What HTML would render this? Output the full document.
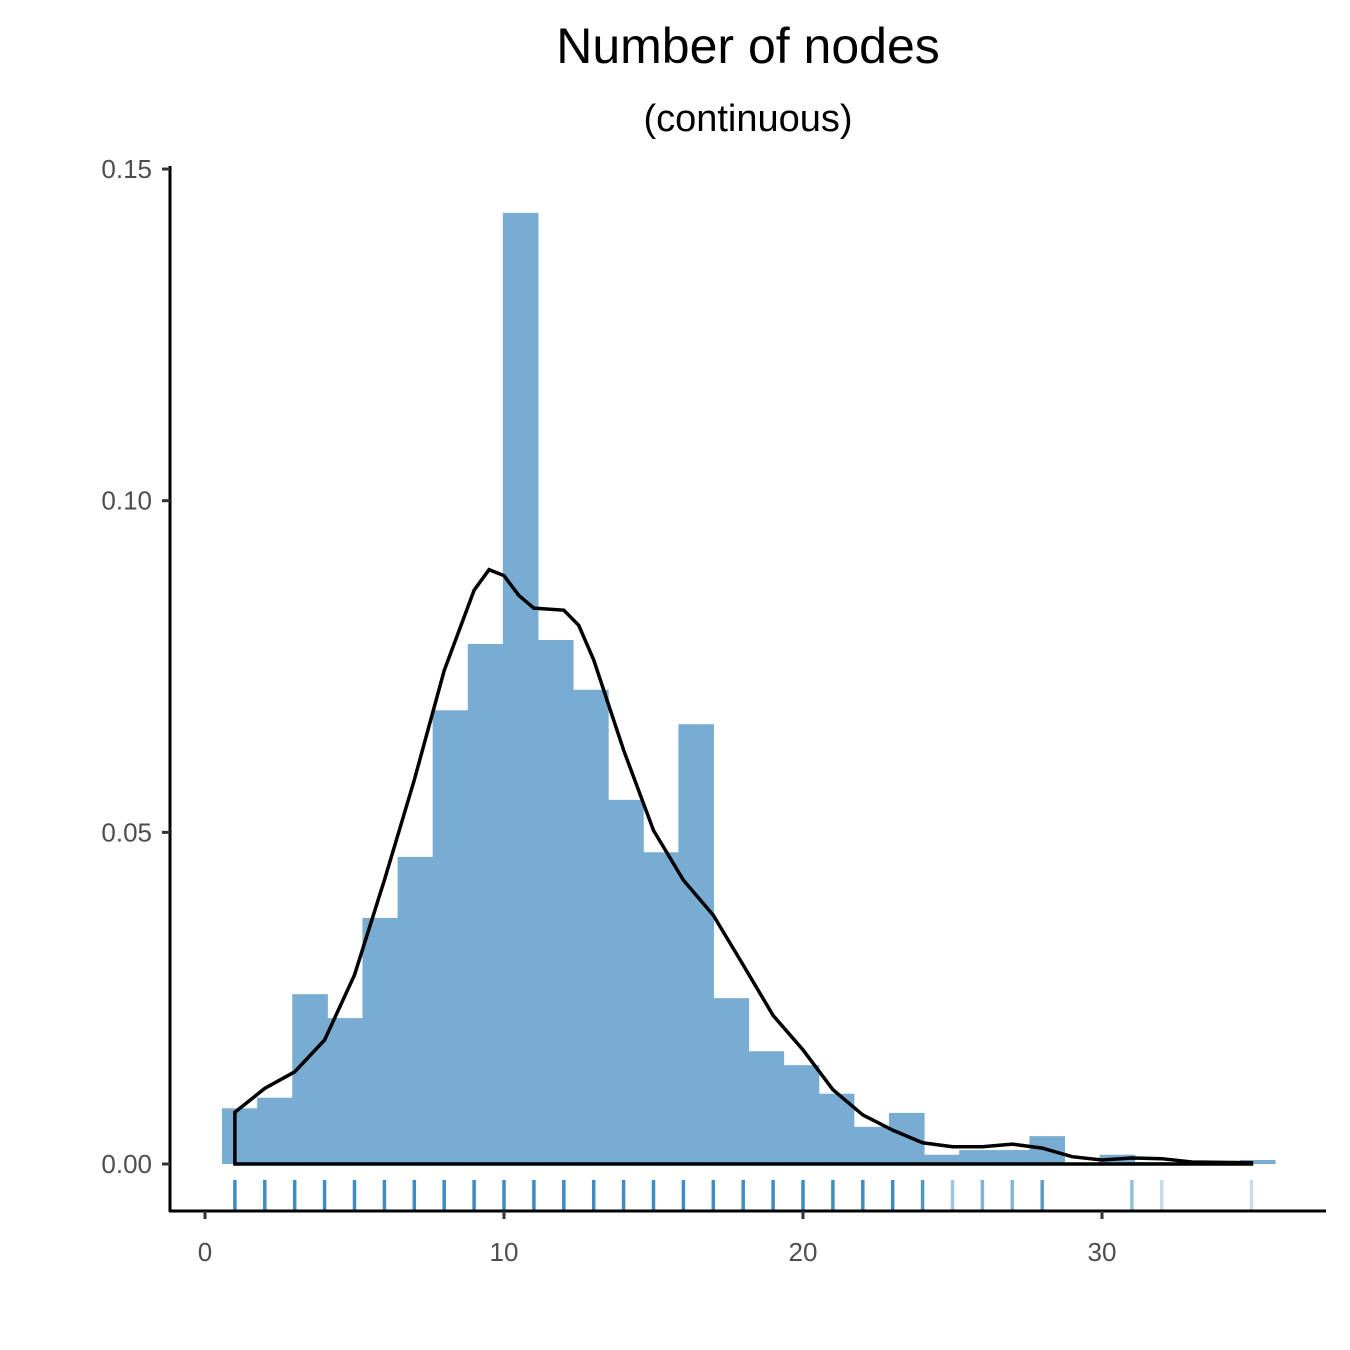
<!DOCTYPE html>
<html><head><meta charset="utf-8"><style>body{margin:0;background:#fff}svg{display:block;font-family:"Liberation Sans",sans-serif}</style></head>
<body>
<svg id="chart" width="1350" height="1350">
<text x="748" y="63" text-anchor="middle" font-size="50">Number of nodes</text>
<text x="748" y="131" text-anchor="middle" font-size="38">(continuous)</text>
<g id="bars"></g>
<g id="rug"></g>
<path id="dens" fill="none" stroke="#000" stroke-width="3.5"/>
<line x1="170" y1="166" x2="170" y2="1212" stroke="#000" stroke-width="3"/>
<line x1="169" y1="1211" x2="1326" y2="1211" stroke="#000" stroke-width="3"/>
<g id="axes"></g>
</svg>
<script>
const binStart = 0.57;
const binWidth = 1.174;
const binValues = [0.0084,0.0100,0.0256,0.0220,0.0371,0.0463,0.0684,0.0784,0.1434,0.0790,0.0715,0.0549,0.0470,0.0663,0.0250,0.0170,0.0149,0.0106,0.0056,0.0077,0.0014,0.0021,0.0021,0.0042,0,0.0014,0.0003,0,0,0.0006];
const densX = [1,2,3,4,5,6,7,8,9,9.5,10,10.5,11,12,12.5,13,14,15,16,17,18,19,20,21,22,23,24,25,26,27,28,29,30,31,32,33,35];
const densY = [0.0078,0.0114,0.0139,0.0187,0.0285,0.0428,0.0579,0.0744,0.0865,0.0896,0.0887,0.0857,0.0838,0.0835,0.0812,0.0760,0.0624,0.0503,0.0428,0.0375,0.0300,0.0224,0.0172,0.0112,0.0074,0.0051,0.0032,0.0026,0.0026,0.0030,0.0024,0.0011,0.0006,0.0009,0.0008,0.0003,0.0002];
const rugX = [1,2,3,4,5,6,7,8,9,10,11,12,13,14,15,16,17,18,19,20,21,22,23,24,25,26,27,28,31,32,35];
const rugAlpha = [1,1,1,1,1,1,1,1,1,1,1,1,1,1,1,1,1,1,1,1,1,1,1,0.9,0.5,0.65,0.65,0.85,0.55,0.3,0.3];
const xTicks = [0,10,20,30];
const yTicks = [0,0.05,0.10,0.15];
const yTickLabels = ["0.00","0.05","0.10","0.15"];
const X = v => 205 + v*29.9;
const Y = v => 1164 - v*6633;
const NS = "http://www.w3.org/2000/svg";
const mk = (p,t,a) => {const e=document.createElementNS(NS,t);for(const k in a)e.setAttribute(k,a[k]);document.getElementById(p).appendChild(e);return e;};
binValues.forEach((v,i)=>{ if(v<=0) return;
  const x0=X(binStart+i*binWidth), x1=X(binStart+(i+1)*binWidth);
  const r=mk('bars','rect',{x:x0,y:Y(v),width:x1-x0+0.5,height:Y(0)-Y(v),fill:'#78acd2'});
  
  
});
rugX.forEach((v,i)=>{
  const l=mk('rug','line',{x1:X(v),x2:X(v),y1:1180,y2:1210,stroke:'#1f77b4','stroke-width':3.5,'stroke-opacity':rugAlpha[i]*0.85});
  
  
});
let d='M'+X(densX[0])+','+Y(0);
densX.forEach((v,i)=>{d+=' L'+X(v)+','+Y(densY[i]);});
d+=' L'+X(densX[densX.length-1])+','+Y(0)+' Z';
document.getElementById('dens').setAttribute('d',d);
xTicks.forEach(v=>{
  const l=mk('axes','line',{x1:X(v),x2:X(v),y1:1211,y2:1219,stroke:'#333','stroke-width':3});
  
  
  const t=mk('axes','text',{x:X(v),y:1261,'text-anchor':'middle','font-size':26,fill:'#4d4d4d'});
  t.textContent=v;
  
  
});
yTicks.forEach((v,i)=>{
  const l=mk('axes','line',{x1:162,x2:170,y1:Y(v),y2:Y(v),stroke:'#333','stroke-width':3});
  
  
  const t=mk('axes','text',{x:152,y:Y(v)+9,'text-anchor':'end','font-size':26,fill:'#4d4d4d'});
  t.textContent=yTickLabels[i];
  
  
});
</script>
</body></html>
